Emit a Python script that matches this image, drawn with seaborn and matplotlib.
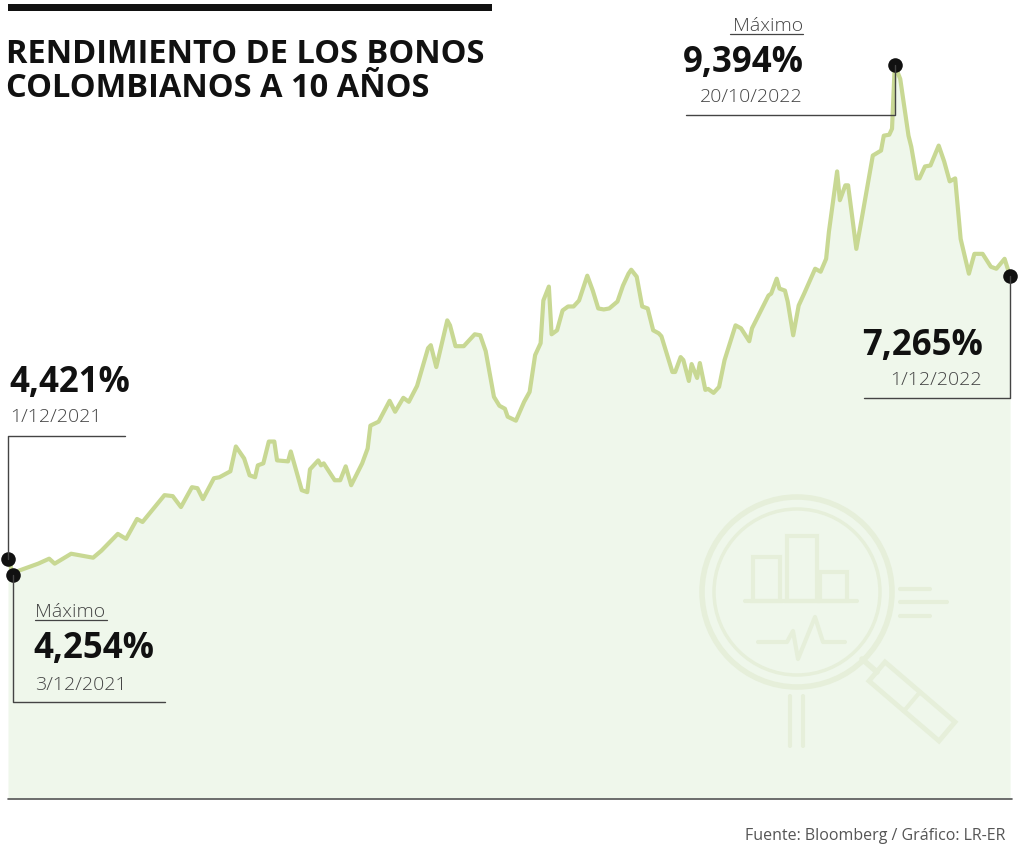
import pandas as pd
import matplotlib
matplotlib.use("Agg")
import matplotlib.pyplot as plt
import matplotlib.dates as mdates
import seaborn as sns
from matplotlib.patches import Circle, Rectangle, Polygon

# Rendimiento de los bonos colombianos a 10 años
inicio = "2021-12-01"
dias = [0, 2, 4, 11, 15, 17, 23, 27, 31, 34, 40, 43, 47, 49, 57, 60, 63, 67, 69, 71,
        75, 77, 81, 83, 86, 88, 90, 91, 93, 95, 97, 98, 102, 103, 107, 109, 110, 113, 114, 115,
        119, 121, 123, 125, 129, 131, 132, 135, 139, 141, 144, 146, 149, 153, 154, 156, 160, 161, 163, 166,
        170, 172, 174, 177, 179, 181, 182, 185, 188, 190, 192, 194, 195, 197, 198, 200, 202, 204, 206, 208,
        211, 213, 215, 217, 219, 222, 224, 226, 227, 229, 231, 233, 235, 237, 238, 242, 243, 245, 246, 248,
        249, 251, 252, 254, 255, 257, 259, 261, 265, 267, 270, 271, 277, 278, 280, 281, 283, 284, 286, 288,
        290, 294, 296, 298, 299, 302, 303, 305, 306, 309, 311, 315, 318, 319, 321, 322, 323, 325, 328, 329,
        331, 332, 334, 336, 339, 341, 343, 345, 347, 350, 352, 355, 358, 360, 363, 365]
rendimiento = [4.421, 4.254, 4.30, 4.37, 4.42, 4.37, 4.47, 4.45, 4.43, 4.50, 4.67, 4.62, 4.82, 4.79, 5.06, 5.05, 4.94, 5.14, 5.13, 5.02,
               5.23, 5.24, 5.30, 5.55, 5.43, 5.26, 5.24, 5.36, 5.38, 5.60, 5.60, 5.41, 5.40, 5.50, 5.11, 5.09, 5.32, 5.41, 5.36, 5.38,
               5.21, 5.21, 5.35, 5.16, 5.38, 5.53, 5.76, 5.80, 6.01, 5.90, 6.04, 6.00, 6.16, 6.54, 6.57, 6.35, 6.82, 6.77, 6.56, 6.56,
               6.68, 6.67, 6.51, 6.05, 5.96, 5.93, 5.85, 5.81, 6.00, 6.10, 6.47, 6.59, 7.02, 7.16, 6.68, 6.72, 6.92, 6.96, 6.96, 7.02,
               7.27, 7.12, 6.94, 6.93, 6.94, 7.01, 7.17, 7.29, 7.33, 7.26, 6.96, 6.94, 6.72, 6.69, 6.66, 6.30, 6.30, 6.45, 6.42, 6.21,
               6.38, 6.24, 6.39, 6.12, 6.13, 6.09, 6.15, 6.42, 6.77, 6.74, 6.61, 6.74, 7.07, 7.09, 7.24, 7.14, 7.12, 7.01, 6.67, 6.97,
               7.09, 7.34, 7.31, 7.44, 7.71, 8.32, 8.03, 8.18, 8.18, 7.54, 7.85, 8.48, 8.53, 8.68, 8.69, 8.75, 9.394, 9.25, 8.68, 8.57,
               8.25, 8.25, 8.37, 8.38, 8.58, 8.42, 8.22, 8.25, 7.64, 7.29, 7.49, 7.49, 7.36, 7.34, 7.44, 7.265]

# puntos destacados
hito_dias = [0, 2, 323, 365]
hito_valor = ["4,421%", "4,254%", "9,394%", "7,265%"]
hito_fecha = ["1/12/2021", "3/12/2021", "20/10/2022", "1/12/2022"]
hito_titulo = [None, "Máximo", "Máximo", None]

titulo = "RENDIMIENTO DE LOS BONOS\nCOLOMBIANOS A 10 AÑOS"
fuente = "Fuente: Bloomberg / Gráfico: LR-ER"

fechas = pd.to_datetime(inicio) + pd.to_timedelta(dias, unit="D")
df = pd.DataFrame({"fecha": fechas, "rendimiento": rendimiento})

sns.set_style("white")
plt.rcParams["font.family"] = ["Open Sans", "DejaVu Sans"]

W, H = 1024, 853
fig = plt.figure(figsize=(W / 100, H / 100), dpi=100)
fig.patch.set_facecolor("white")

# ejes de datos: borde inferior en y=800 px
ax = fig.add_axes([8 / W, 53 / H, 1004 / W, 800 / H])
ax.set_facecolor("none")
ymin = 2.0
ax.set_ylim(ymin, ymin + 800 / 99.3)
ax.set_xlim(fechas[0], fechas[0] + pd.Timedelta(days=365.7))

ax.fill_between(df["fecha"], df["rendimiento"], ymin, color="#eff7eb", lw=0, zorder=1)
sns.lineplot(data=df, x="fecha", y="rendimiento", ax=ax, color="#c8d893",
             lw=3.0, zorder=3, clip_on=False)
ax.axhline(ymin, color="#555555", lw=1.2, clip_on=False, zorder=4)

hitos = df[df["fecha"].isin(pd.to_datetime(inicio) + pd.to_timedelta(hito_dias, unit="D"))]
ax.scatter(hitos["fecha"], hitos["rendimiento"], s=110, color="#111111",
           zorder=6, clip_on=False, lw=0)

for s in ax.spines.values():
    s.set_visible(False)
ax.set_xticks([])
ax.set_yticks([])
ax.set_xlabel("")
ax.set_ylabel("")

# capa superior en píxeles para textos y anotaciones
ov = fig.add_axes([0, 0, 1, 1], zorder=5)
ov.set_xlim(0, W)
ov.set_ylim(H, 0)
ov.axis("off")
ov.patch.set_alpha(0)


def px(fecha, valor):
    xd, yd = ax.transData.transform((mdates.date2num(fecha), valor))
    return xd, H - yd


# marca de agua (lupa)
wm = "#e6efda"
ov.add_patch(Circle((797, 593), 95, fill=False, ec=wm, lw=4, zorder=0))
ov.add_patch(Circle((797, 593), 83, fill=False, ec=wm, lw=2.5, zorder=0))
for x0, y0, x1 in [(753, 558, 780), (787, 537, 817), (820, 573, 847)]:
    ov.add_patch(Rectangle((x0, y0), x1 - x0, 602 - y0, fill=False, ec=wm, lw=3, zorder=0))
ov.plot([745, 857], [602, 602], color=wm, lw=3, zorder=0)
ov.plot([758, 787, 793, 798, 815, 823, 845], [643, 643, 632, 660, 618, 643, 643],
        color=wm, lw=3, zorder=0)
ov.plot([862, 877], [660, 673], color=wm, lw=4, zorder=0)
ov.add_patch(Polygon([(885, 663), (955, 723), (939, 742), (869, 682)], closed=True,
                     fill=False, ec=wm, lw=3.5, zorder=0))
ov.plot([904, 920], [712, 693], color=wm, lw=3, zorder=0)
ov.plot([900, 930], [590, 590], color=wm, lw=3, zorder=0)
ov.plot([900, 947], [603, 603], color=wm, lw=3, zorder=0)
ov.plot([900, 930], [617, 617], color=wm, lw=3, zorder=0)
ov.plot([790, 790], [697, 747], color=wm, lw=3, zorder=0)
ov.plot([803, 803], [697, 747], color=wm, lw=3, zorder=0)

# título
ov.add_patch(Rectangle((8, 5), 484, 7, color="#111111", lw=0))
ov.text(6, 63, titulo.split("\n")[0], fontsize=23.5, fontweight="bold", color="#111111", va="baseline")
ov.text(6, 97, titulo.split("\n")[1], fontsize=23.5, fontweight="bold", color="#111111", va="baseline")

# anotaciones
lc = "#444444"
gris = "#444444"
pos = hitos.reset_index(drop=True)
puntos = [px(f, v) for f, v in zip(pos["fecha"], pos["rendimiento"])]

# 4,421% (inicio)
x, y = puntos[0]
ov.plot([x, x, 125], [y, 437, 437], color=lc, lw=1.0)
ov.text(9, 392, hito_valor[0], fontsize=25, fontweight="bold", color="#111111", va="baseline")
ov.text(10, 422, hito_fecha[0], fontsize=14, fontweight="light", color=gris, va="baseline")

# 4,254% (3/12/2021)
x, y = puntos[1]
ov.plot([x, x, 165], [y, 703, 703], color=lc, lw=1.0)
ov.text(35, 617, hito_titulo[1], fontsize=14, fontweight="light", color=gris, va="baseline")
ov.plot([35, 107], [621, 621], color=gris, lw=0.9)
ov.text(33, 658, hito_valor[1], fontsize=25, fontweight="bold", color="#111111", va="baseline")
ov.text(35, 690, hito_fecha[1], fontsize=14, fontweight="light", color=gris, va="baseline")

# 9,394% (máximo)
x, y = puntos[2]
ov.plot([x, x, 686], [y, 116, 116], color=lc, lw=1.0)
ov.text(803, 31, hito_titulo[2], fontsize=14, fontweight="light", color=gris, va="baseline", ha="right")
ov.plot([730, 803], [35, 35], color=gris, lw=0.9)
ov.text(804, 72, hito_valor[2], fontsize=25, fontweight="bold", color="#111111", va="baseline", ha="right")
ov.text(803, 102, hito_fecha[2], fontsize=14, fontweight="light", color=gris, va="baseline", ha="right")

# 7,265% (final)
x, y = puntos[3]
ov.plot([x, x, 864], [y, 399, 399], color=lc, lw=1.0)
ov.text(983, 355, hito_valor[3], fontsize=25, fontweight="bold", color="#111111", va="baseline", ha="right")
ov.text(982, 385, hito_fecha[3], fontsize=14, fontweight="light", color=gris, va="baseline", ha="right")

ov.text(1005, 840, fuente, fontsize=11.5, color="#555555", va="baseline", ha="right")

fig.savefig("out.png", dpi=100)
